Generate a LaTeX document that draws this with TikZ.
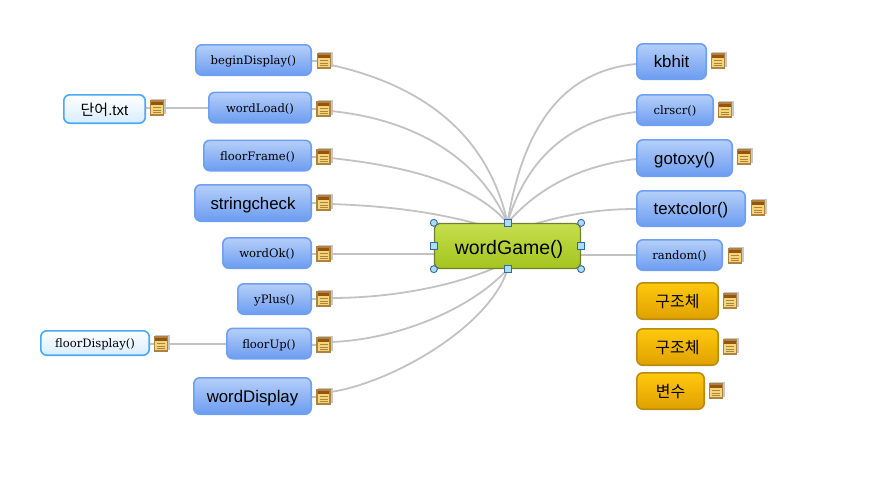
\documentclass[tikz,border=0pt]{standalone}
\usepackage{fontspec}
\setmainfont{Liberation Sans}
\newfontfamily\kr{Noto Sans CJK KR}
\newfontfamily\ser{DejaVu Serif}
\usetikzlibrary{backgrounds}
\definecolor{blueA}{HTML}{B5CFF9}
\definecolor{blueB}{HTML}{6C9CF0}
\definecolor{blueL}{HTML}{6E9FF2}
\definecolor{whiteB}{HTML}{D8ECFD}
\definecolor{whiteL}{HTML}{4AA8F8}
\definecolor{goldA}{HTML}{FFC90E}
\definecolor{goldB}{HTML}{E0A000}
\definecolor{goldL}{HTML}{B88C10}
\definecolor{greenA}{HTML}{C6DE4E}
\definecolor{greenB}{HTML}{A4C41E}
\definecolor{greenL}{HTML}{6F8030}
\definecolor{wire}{HTML}{C2C2C2}
\definecolor{handleF}{HTML}{B0DCF2}
\definecolor{handleL}{HTML}{2F68AE}
\definecolor{noteF}{HTML}{F3D678}
\definecolor{noteL}{HTML}{B08242}
\definecolor{noteT}{HTML}{96540C}
\tikzset{
  box/.style={rounded corners=6pt,line width=1.6pt,inner sep=0pt,align=center,text=black},
  bluebox/.style={box,draw=blueL,top color=blueA,bottom color=blueB},
  whitebox/.style={box,draw=whiteL,top color=white,bottom color=whiteB},
  goldbox/.style={box,draw=goldL,top color=goldA,bottom color=goldB},
  mainbox/.style={box,rounded corners=5pt,line width=1.3pt,draw=greenL,top color=greenA,bottom color=greenB},
  small/.style={font=\ser\fontsize{11.6}{13}\selectfont,text height=12pt,text depth=3pt},
  big/.style={font=\fontsize{16.8}{19}\selectfont,text height=16pt,text depth=4pt},
  kor/.style={font=\kr\fontsize{16}{19}\selectfont,text height=17pt,text depth=4pt},
  notebox/.style={rectangle,draw=noteL,fill=noteF,line width=1.4pt,minimum width=13pt,minimum height=14pt,inner sep=0pt,
    path picture={
      \fill[noteT] ([yshift=-3.5pt]path picture bounding box.north west) rectangle (path picture bounding box.north east);
      \foreach \d in {6.5,9,11.5}
        \draw[noteL,line width=.8pt] ([xshift=2.5pt,yshift=-\d pt]path picture bounding box.north west) -- ([xshift=-2.5pt,yshift=-\d pt]path picture bounding box.north east);
    }},
  noteshadow/.style={fill=black,opacity=.22},
  wireline/.style={draw=wire,line width=1.8pt},
  stub/.style={draw=wire,line width=1.3pt},
  handlesq/.style={rectangle,draw=handleL,fill=handleF,line width=.9pt,minimum size=7pt,inner sep=0pt},
  handleci/.style={circle,draw=handleL,fill=handleF,line width=.9pt,minimum size=7pt,inner sep=0pt}
}
\begin{document}
\begin{tikzpicture}[x=1pt,y=-1pt]
\useasboundingbox (0,0) rectangle (881,501);
% left boxes
\node[bluebox,small,minimum width=115.4pt,minimum height=30.4pt] (l1) at (253.5,60) {beginDisplay()};
\node[bluebox,small,minimum width=102.4pt,minimum height=30.4pt] (l2) at (260,107.5) {wordLoad()};
\node[bluebox,small,minimum width=107.4pt,minimum height=30.4pt] (l3) at (257.5,155.5) {floorFrame()};
\node[bluebox,big,minimum width=116.4pt,minimum height=36.4pt] (l4) at (253,203) {stringcheck};
\node[bluebox,small,minimum width=88.4pt,minimum height=30.4pt] (l5) at (267,253) {wordOk()};
\node[bluebox,small,minimum width=73.4pt,minimum height=30.4pt] (l6) at (274.5,299) {yPlus()};
\node[bluebox,small,minimum width=84.4pt,minimum height=30.4pt] (l7) at (269,343.5) {floorUp()};
\node[bluebox,big,minimum width=117.4pt,minimum height=36.4pt] (l8) at (252.5,396) {wordDisplay};
\node[notebox] (nl1) at (324,61) {};
\node[notebox] (nl2) at (323.5,109) {};
\node[notebox] (nl3) at (323.5,157) {};
\node[notebox] (nl4) at (323.5,203) {};
\node[notebox] (nl5) at (323.5,254) {};
\node[notebox] (nl6) at (323.5,299) {};
\node[notebox] (nl7) at (323.5,345) {};
\node[notebox] (nl8) at (323.5,397) {};
% outer white boxes
\node[whitebox,minimum width=81.4pt,minimum height=28.4pt,font=\fontsize{15}{17}\selectfont,text height=16pt,text depth=4pt] (w1) at (104.5,109) {{\kr 단어}.txt};
\node[notebox] (nw1) at (157,108) {};
\node[whitebox,small,minimum width=108.4pt,minimum height=24.4pt] (w2) at (95,343) {floorDisplay()};
\node[notebox] (nw2) at (161,344) {};
% right boxes
\node[bluebox,big,minimum width=69.4pt,minimum height=35.4pt] (r1) at (671.5,61.5) {kbhit};
\node[bluebox,small,minimum width=76.4pt,minimum height=30.4pt] (r2) at (675,110) {clrscr()};
\node[bluebox,big,minimum width=95.4pt,minimum height=36.4pt] (r3) at (684.5,158) {gotoxy()};
\node[bluebox,big,minimum width=108.4pt,minimum height=35.4pt] (r4) at (691,208.5) {textcolor()};
\node[bluebox,small,minimum width=85.4pt,minimum height=30.4pt] (r5) at (679.5,255) {random()};
\node[goldbox,kor,minimum width=81.4pt,minimum height=36.4pt] (r6) at (677.5,301) {구조체};
\node[goldbox,kor,minimum width=81.4pt,minimum height=36.4pt] (r7) at (677.5,347) {구조체};
\node[goldbox,kor,minimum width=67.4pt,minimum height=36.4pt] (r8) at (670.5,391) {변수};
\node[notebox] (nr1) at (718,61) {};
\node[notebox] (nr2) at (725,110) {};
\node[notebox] (nr3) at (744,157) {};
\node[notebox] (nr4) at (758,208) {};
\node[notebox] (nr5) at (735,256) {};
\node[notebox] (nr6) at (730,301) {};
\node[notebox] (nr7) at (730,347) {};
\node[notebox] (nr8) at (716,391) {};
% main
\node[mainbox,minimum width=146pt,minimum height=45pt,font=\fontsize{19.5}{23}\selectfont,text height=20pt,text depth=4pt] (main) at (507.5,246) {\hspace*{3pt}wordGame()};
\node[handleci] (h1) at (main.north west) {};
\node[handleci] (h2) at (main.north east) {};
\node[handleci] (h3) at (main.south west) {};
\node[handleci] (h4) at (main.south east) {};
\node[handlesq] (h5) at (main.north) {};
\node[handlesq] (h6) at (main.south) {};
\node[handlesq] (h7) at (main.west) {};
\node[handlesq] (h8) at (main.east) {};
\begin{scope}[on background layer]
  \foreach \n in {nl1,nl2,nl3,nl4,nl5,nl6,nl7,nl8,nw1,nw2,nr1,nr2,nr3,nr4,nr5,nr6,nr7,nr8}
    \fill[noteshadow] ([shift={(-6pt,-6pt)}]\n.center) rectangle ([shift={(9pt,9pt)}]\n.center);
  \draw[wireline] ([yshift=-4pt]nl1.east) .. controls +(90,20) and +(-20,-90) .. (main.north);
  \draw[wireline] ([yshift=-2pt]nl2.east) .. controls +(80,8) and +(-30,-68) .. (main.north);
  \draw[wireline] ([yshift=-1pt]nl3.east) .. controls +(75,8) and +(-35,-40) .. (main.north);
  \draw[wireline] ([yshift=-1pt]nl4.east) .. controls +(60,2) and +(-60,-20) .. ([yshift=-10pt]main.north);
  \draw[wireline] (nl5.east) -- (main.west |- nl5.east);
  \draw[wireline] ([yshift=1pt]nl6.east) .. controls +(64,0) and +(-47,23) .. ([yshift=7pt]main.south);
  \draw[wireline] ([yshift=3pt]nl7.east) .. controls +(64,-2) and +(-37,41) .. (main.south);
  \draw[wireline] ([yshift=5pt]nl8.east) .. controls +(64,-10) and +(-17,56) .. (main.south);
  \draw[wireline] ([yshift=-2.5pt]r1.west) .. controls +(-61,6) and +(18,-113) .. (main.north);
  \draw[wireline] ([yshift=-2pt]r2.west) .. controls +(-51,6) and +(23,-78) .. (main.north);
  \draw[wireline] ([yshift=-1pt]r3.west) .. controls +(-51,6) and +(33,-38) .. (main.north);
  \draw[wireline] ([yshift=-.5pt]r4.west) .. controls +(-36,0) and +(53,-19) .. ([yshift=-10pt]main.north);
  \draw[wireline] (r5.west) -- (main.east |- r5.west);
  \foreach \a/\b in {l1/nl1,l2/nl2,l3/nl3,l4/nl4,l5/nl5,l6/nl6,l7/nl7,l8/nl8,w1/nw1,w2/nw2}
    \draw[stub] (\a.east |- \b.west) -- (\b.west);
  \draw[stub] (nw1.east) -- (l2.west |- nw1.east);
  \draw[stub] (nw2.east) -- (l7.west |- nw2.east);
\end{scope}
\end{tikzpicture}
\end{document}
